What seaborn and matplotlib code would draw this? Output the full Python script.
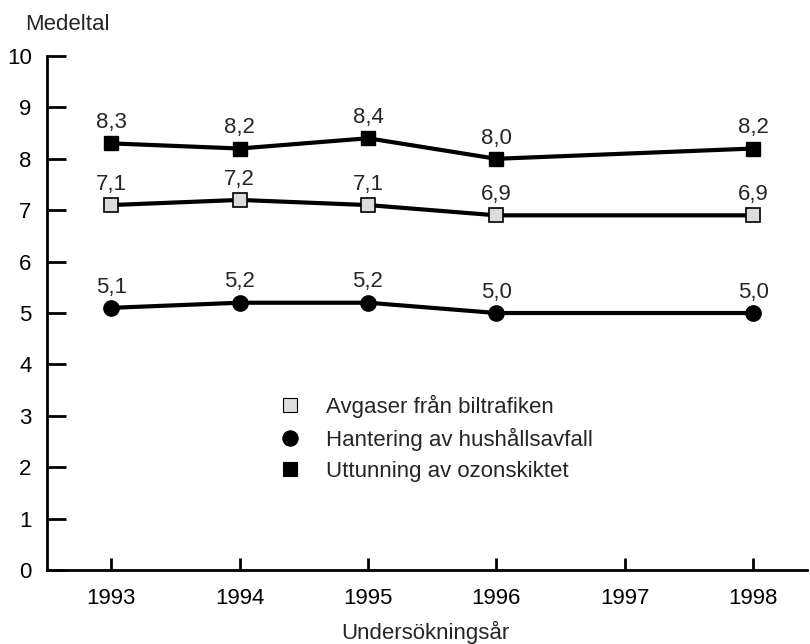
import matplotlib
matplotlib.use("Agg")
import matplotlib.pyplot as plt
from matplotlib.lines import Line2D
import seaborn as sns
import pandas as pd

years = [1993, 1994, 1995, 1996, 1998]
avgaser = [7.1, 7.2, 7.1, 6.9, 6.9]
hantering = [5.1, 5.2, 5.2, 5.0, 5.0]
uttunning = [8.3, 8.2, 8.4, 8.0, 8.2]
series_names = ["Avgaser från biltrafiken", "Hantering av hushållsavfall", "Uttunning av ozonskiktet"]
xticks = [1993, 1994, 1995, 1996, 1997, 1998]
yticks = list(range(0, 11))

sns.set_style("white")
plt.rcParams['font.family'] = ['Liberation Sans', 'DejaVu Sans']
FS = 16

fig = plt.figure(figsize=(8.1, 6.44), dpi=100)
ax = fig.add_axes([47/810, 1-570/644, 760/810, (570-56)/644])

styles = {
    series_names[0]: dict(marker="s", mfc="#dcdcdc", mec="black", ms=9.5, mew=1.2),
    series_names[1]: dict(marker="o", mfc="black", mec="black", ms=11, mew=1),
    series_names[2]: dict(marker="s", mfc="black", mec="black", ms=10.5, mew=1),
}
data = {series_names[0]: avgaser, series_names[1]: hantering, series_names[2]: uttunning}

for name, vals in data.items():
    df = pd.DataFrame({"year": years, "value": vals})
    sns.lineplot(data=df, x="year", y="value", ax=ax, color="black", linewidth=3,
                 legend=False, zorder=2)
    st = styles[name]
    ax.plot(years, vals, linestyle="none", marker=st["marker"], markerfacecolor=st["mfc"],
            markeredgecolor=st["mec"], markersize=st["ms"], markeredgewidth=st["mew"], zorder=3)
    for x, y in zip(years, vals):
        ax.annotate(f"{y:.1f}".replace(".", ","), (x, y), xytext=(0, 11), textcoords="offset points",
                    ha="center", va="baseline", fontsize=FS)

ax.set_xlim(1992.5, 1998.42)
ax.set_ylim(0, 10)
ax.set_xticks(xticks)
ax.set_yticks(yticks)
ax.tick_params(axis="both", direction="in", width=2, labelsize=FS, colors="black",
               bottom=True, left=True)
ax.tick_params(axis="y", length=14, pad=11)
ax.tick_params(axis="x", length=9, pad=13)
for s in ["top", "right"]:
    ax.spines[s].set_visible(False)
for s in ["left", "bottom"]:
    ax.spines[s].set_linewidth(2)
    ax.spines[s].set_color("black")
ax.set_xlabel("")
ax.set_ylabel("")
fig.text(25/810, 1-25/644, "Medeltal", fontsize=FS, ha="left", va="center")
fig.text(425/810, 1-632/644, "Undersökningsår", fontsize=FS, ha="center", va="center")

handles = []
for name in series_names:
    st = styles[name]
    handles.append(Line2D([], [], linestyle="none", marker=st["marker"], markerfacecolor=st["mfc"],
                          markeredgecolor=st["mec"], markersize=st["ms"], markeredgewidth=0.8))
ax.legend(handles, series_names, loc="upper left", bbox_to_anchor=(221/760, 1-(386-56)/514),
          frameon=False, fontsize=FS, handletextpad=1.0, labelspacing=0.45, handlelength=1.2,
          borderaxespad=0)

fig.savefig("out.png", dpi=100)
